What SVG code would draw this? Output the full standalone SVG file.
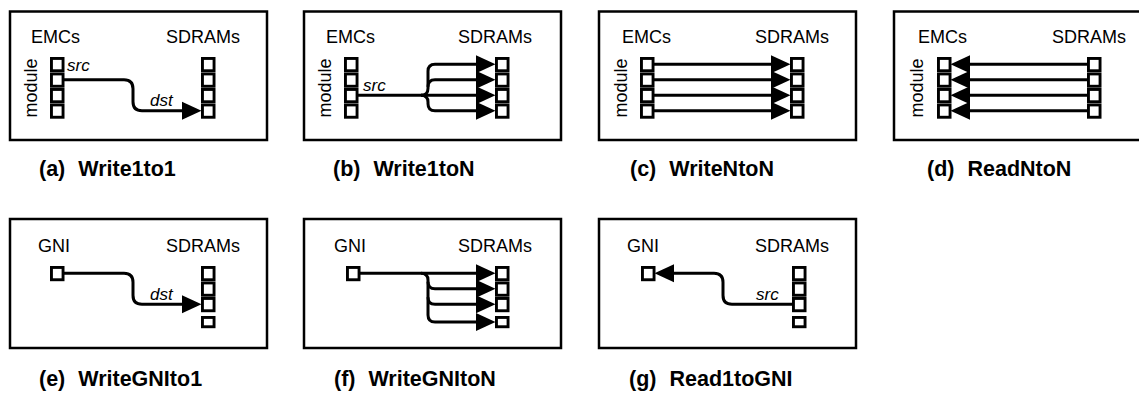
<svg xmlns="http://www.w3.org/2000/svg" width="1139" height="394" viewBox="0 0 1139 394">
  <style>
    .frame { fill: none; stroke: #000; stroke-width: 2.5; }
    .cell { fill: #fff; stroke: #000; stroke-width: 2.9; }
    .wire { fill: none; stroke: #000; stroke-width: 3; }
    .lbl { font-family: "Liberation Sans", Arial, Helvetica, sans-serif; font-size: 18px; fill: #000; }
    .tag { font-family: "Liberation Sans", Arial, Helvetica, sans-serif; font-size: 17px; font-style: italic; fill: #000; }
    .cap { font-family: "Liberation Sans", Arial, Helvetica, sans-serif; font-size: 21.5px; font-weight: bold; fill: #000; }
  </style>
  <defs>
    <!-- solid triangular head, drawn forward from the end of a wire -->
    <marker id="tip" markerUnits="userSpaceOnUse" markerWidth="20" markerHeight="20" refX="0" refY="9" orient="auto" overflow="visible">
      <path d="M0,0 L19.5,9 L0,18 Z" fill="#000"/>
    </marker>
    <!-- four stacked memory cells -->
    <g id="col4">
      <rect class="cell" x="1.45" y="1.45" width="11.6" height="12.3"/>
      <rect class="cell" x="1.45" y="16.95" width="11.6" height="12.3"/>
      <rect class="cell" x="1.45" y="32.45" width="11.6" height="12.3"/>
      <rect class="cell" x="1.45" y="47.95" width="11.6" height="12.3"/>
    </g>
    <!-- three stacked cells plus a detached smaller fourth -->
    <g id="col3p1">
      <rect class="cell" x="1.45" y="1.45" width="11.6" height="12.3"/>
      <rect class="cell" x="1.45" y="16.95" width="11.6" height="12.3"/>
      <rect class="cell" x="1.45" y="32.45" width="11.6" height="12.3"/>
      <rect class="cell" x="1.45" y="51.45" width="11.6" height="9.3"/>
    </g>
    <rect id="one" class="cell" x="1.45" y="1.45" width="11.6" height="12.3"/>
  </defs>

  <!-- (a) Write1to1 -->
  <g id="write1to1">
    <rect class="frame" x="10" y="11.5" width="257" height="128.5"/>
    <text class="lbl" x="31" y="42.5">EMCs</text>
    <text class="lbl" x="166" y="42.5">SDRAMs</text>
    <text class="lbl" text-anchor="middle" transform="translate(36.5,88) rotate(-90)">module</text>
    <use href="#col4" x="50" y="57"/>
    <use href="#col4" x="201" y="57"/>
    <text class="tag" x="67" y="71">src</text>
    <text class="tag" x="150" y="106">dst</text>
    <g class="links">
      <path class="wire" marker-end="url(#tip)" d="M64,79.75 H124 Q133,79.75 133,88.75 V101.75 Q133,110.75 142,110.75 H182"/>
    </g>
    <text class="cap" x="39" y="176">(a) <tspan dx="7">Write1to1</tspan></text>
  </g>

  <!-- (b) Write1toN -->
  <g id="write1toN" transform="translate(294,0)">
    <rect class="frame" x="10" y="11.5" width="257" height="128.5"/>
    <text class="lbl" x="32" y="42.5">EMCs</text>
    <text class="lbl" x="164" y="42.5">SDRAMs</text>
    <text class="lbl" text-anchor="middle" transform="translate(36.5,88) rotate(-90)">module</text>
    <use href="#col4" x="50" y="57"/>
    <use href="#col4" x="201" y="57"/>
    <text class="tag" x="69" y="91">src</text>
    <g class="links">
      <path class="wire" marker-end="url(#tip)" d="M127,95.25 Q134,95.25 134,88.25 V71.25 Q134,64.25 141,64.25 H182"/>
      <path class="wire" marker-end="url(#tip)" d="M134,86.75 Q134,79.75 141,79.75 H182"/>
      <path class="wire" marker-end="url(#tip)" d="M64,95.25 H182"/>
      <path class="wire" marker-end="url(#tip)" d="M127,95.25 Q134,95.25 134,102.25 V103.75 Q134,110.75 141,110.75 H182"/>
    </g>
    <text class="cap" x="39" y="176">(b) <tspan dx="7">Write1toN</tspan></text>
  </g>

  <!-- (c) WriteNtoN -->
  <g id="writeNtoN" transform="translate(589,0)">
    <rect class="frame" x="10" y="11.5" width="257" height="128.5"/>
    <text class="lbl" x="33" y="42.5">EMCs</text>
    <text class="lbl" x="166" y="42.5">SDRAMs</text>
    <text class="lbl" text-anchor="middle" transform="translate(37.5,88) rotate(-90)">module</text>
    <use href="#col4" x="51" y="57"/>
    <use href="#col4" x="201" y="57"/>
    <g class="links">
      <path class="wire" marker-end="url(#tip)" d="M65,64.25 H182"/>
      <path class="wire" marker-end="url(#tip)" d="M65,79.75 H182"/>
      <path class="wire" marker-end="url(#tip)" d="M65,95.25 H182"/>
      <path class="wire" marker-end="url(#tip)" d="M65,110.75 H182"/>
    </g>
    <text class="cap" x="41" y="176">(c) <tspan dx="7">WriteNtoN</tspan></text>
  </g>

  <!-- (d) ReadNtoN -->
  <g id="readNtoN" transform="translate(885,0)">
    <rect class="frame" x="9" y="11.5" width="257" height="128.5"/>
    <text class="lbl" x="33" y="42.5">EMCs</text>
    <text class="lbl" x="167" y="42.5">SDRAMs</text>
    <text class="lbl" text-anchor="middle" transform="translate(38,88) rotate(-90)">module</text>
    <use href="#col4" x="52" y="57"/>
    <use href="#col4" x="202" y="57"/>
    <g class="links">
      <path class="wire" marker-end="url(#tip)" d="M202,64.25 H85"/>
      <path class="wire" marker-end="url(#tip)" d="M202,79.75 H85"/>
      <path class="wire" marker-end="url(#tip)" d="M202,95.25 H85"/>
      <path class="wire" marker-end="url(#tip)" d="M202,110.75 H85"/>
    </g>
    <text class="cap" x="42" y="176">(d) <tspan dx="7">ReadNtoN</tspan></text>
  </g>

  <!-- (e) WriteGNIto1 -->
  <g id="writeGNIto1" transform="translate(0,209)">
    <rect class="frame" x="10" y="10" width="257" height="129"/>
    <text class="lbl" x="38" y="42.5">GNI</text>
    <text class="lbl" x="166" y="42.5">SDRAMs</text>
    <use href="#one" x="50" y="57"/>
    <use href="#col3p1" x="201" y="57"/>
    <text class="tag" x="150" y="91">dst</text>
    <g class="links">
      <path class="wire" marker-end="url(#tip)" d="M64,64.25 H124 Q133,64.25 133,73.25 V86.25 Q133,95.25 142,95.25 H182"/>
    </g>
    <text class="cap" x="39" y="177">(e) <tspan dx="7">WriteGNIto1</tspan></text>
  </g>

  <!-- (f) WriteGNItoN -->
  <g id="writeGNItoN" transform="translate(294,209)">
    <rect class="frame" x="10" y="10" width="257" height="129"/>
    <text class="lbl" x="40" y="42.5">GNI</text>
    <text class="lbl" x="164" y="42.5">SDRAMs</text>
    <use href="#one" x="52" y="57"/>
    <use href="#col3p1" x="201" y="57"/>
    <g class="links">
      <path class="wire" marker-end="url(#tip)" d="M66,64.25 H182"/>
      <path class="wire" marker-end="url(#tip)" d="M134,72.75 Q134,79.75 141,79.75 H182"/>
      <path class="wire" marker-end="url(#tip)" d="M134,88.25 Q134,95.25 141,95.25 H182"/>
      <path class="wire" marker-end="url(#tip)" d="M127,64.25 Q134,64.25 134,71.25 V106 Q134,113 141,113 H182"/>
    </g>
    <text class="cap" x="40" y="177">(f) <tspan dx="7">WriteGNItoN</tspan></text>
  </g>

  <!-- (g) Read1toGNI -->
  <g id="read1toGNI" transform="translate(589,209)">
    <rect class="frame" x="10" y="10" width="257" height="129"/>
    <text class="lbl" x="38" y="42.5">GNI</text>
    <text class="lbl" x="166" y="42.5">SDRAMs</text>
    <use href="#one" x="52" y="57"/>
    <use href="#col3p1" x="203" y="57"/>
    <text class="tag" x="167" y="91">src</text>
    <g class="links">
      <path class="wire" marker-end="url(#tip)" d="M203,95.25 H143 Q134,95.25 134,86.25 V73.25 Q134,64.25 125,64.25 H85"/>
    </g>
    <text class="cap" x="40" y="177">(g) <tspan dx="7">Read1toGNI</tspan></text>
  </g>
</svg>
